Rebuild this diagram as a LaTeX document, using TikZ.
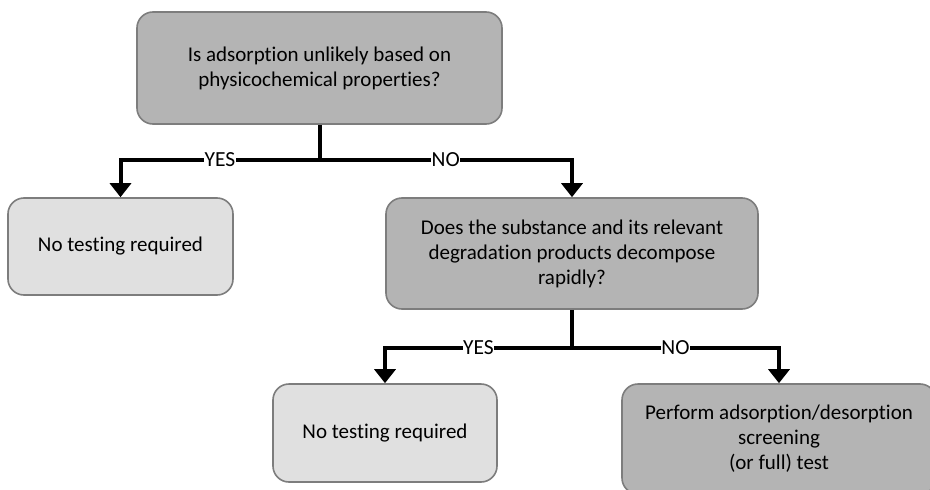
\documentclass[tikz,border=0pt]{standalone}
\usepackage{fontspec}
\setmainfont{Carlito}[Ligatures={NoCommon}]
\usetikzlibrary{arrows.meta}
\definecolor{darkbox}{RGB}{180,180,180}
\definecolor{lightbox}{RGB}{224,224,224}
\definecolor{boxborder}{RGB}{125,125,125}
\tikzset{
  box/.style={draw=boxborder, line width=1.6pt, rounded corners=16pt, align=center,
    font=\fontsize{21}{25}\selectfont, inner sep=0pt},
  darkq/.style={box, fill=darkbox},
  lightq/.style={box, fill=lightbox},
  conn/.style={line width=4pt, draw=black},
  arr/.style={conn, -{Triangle[width=21pt,length=14pt]}},
  lbl/.style={fill=white, inner xsep=0.3pt, inner ysep=2pt, font=\fontsize{21.5}{23}\selectfont}
}
\begin{document}
\begin{tikzpicture}[x=1pt, y=-1pt]
\clip (0,0) rectangle (930,490);
\fill[white] (0,0) rectangle (930,490);

\node[darkq, minimum width=365pt, minimum height=112pt] (top) at (319.5,68)
  {Is adsorption unlikely based on\\physicochemical properties?};
\node[lightq, minimum width=225pt, minimum height=97pt] (left) at (120.5,246.5)
  {No testing required};
\node[darkq, minimum width=372pt, minimum height=111pt] (mid) at (572,253.5)
  {Does the substance and its relevant\\degradation products decompose\\rapidly?};
\node[lightq, minimum width=224pt, minimum height=98pt] (bl) at (385,433)
  {No testing required};
\node[darkq, minimum width=314pt, minimum height=110pt] (br) at (779,439)
  {Perform adsorption/desorption\\screening\\(or full) test};

\coordinate (j1) at (319.5,160);
\coordinate (j2) at (572,348);

\draw[conn] (top.south) -- (j1);
\draw[arr] (j1) -| (left.north) node[lbl, pos=0.25] {YES};
\draw[arr] (j1) -| (mid.north) node[lbl, pos=0.25] {NO};

\draw[conn] (mid.south) -- (j2);
\draw[arr] (j2) -| (bl.north) node[lbl, pos=0.25] {YES};
\draw[arr] (j2) -| (br.north) node[lbl, pos=0.25] {NO};
\end{tikzpicture}
\end{document}
